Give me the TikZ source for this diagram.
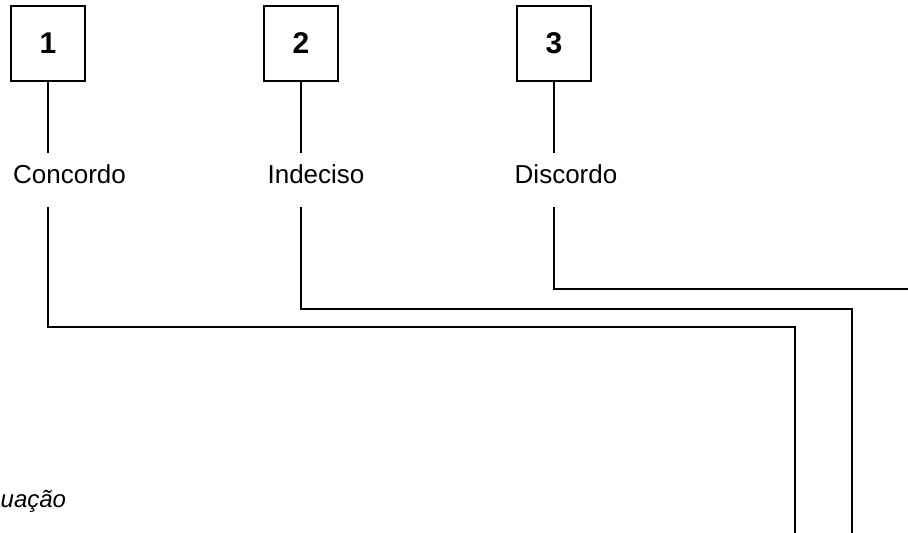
\documentclass[tikz,border=0pt]{standalone}
\usepackage{fontspec}
\setmainfont{Liberation Sans}
\begin{document}
\begin{tikzpicture}[x=1pt,y=-1pt,
  numbox/.style={draw,line width=2.2pt,minimum width=74pt,minimum height=75pt,inner sep=0pt,font=\fontsize{30}{32}\selectfont\bfseries},
  optlabel/.style={inner xsep=2pt,inner ysep=0pt,text height=30pt,text depth=24pt,anchor=base,font=\fontsize{26}{28}\selectfont},
  wire/.style={line width=2.4pt}]
\useasboundingbox (0,0) rectangle (908,533);
% boxes
\node[numbox] (b1) at (48,43.5) {1};
\node[numbox] (b2) at (301,43.5) {2};
\node[numbox] (b3) at (554,43.5) {3};
% labels
\node[optlabel] (l1) at (69.5,183) {Concordo};
\node[optlabel] (l2) at (316,183) {Indeciso};
\node[optlabel] (l3) at (566,183) {Discordo};
% bend points and ends
\coordinate (h1) at (795,327);
\coordinate (e1) at (795,533);
\coordinate (h2) at (852,309);
\coordinate (e2) at (852,533);
\coordinate (e3) at (908,289);
% connectors
\draw[wire] (b1.south) -- (b1.south |- l1.north);
\draw[wire] (b2.south) -- (b2.south |- l2.north);
\draw[wire] (b3.south) -- (b3.south |- l3.north);
\draw[wire] (b1.south |- l1.south) |- (h1) -- (e1);
\draw[wire] (b2.south |- l2.south) |- (h2) -- (e2);
\draw[wire] (b3.south |- l3.south) |- (e3);
% partial caption
\node[anchor=base west,inner sep=0pt,font=\fontsize{24}{26}\selectfont\itshape] (cap) at (0.5,507) {uação};
\end{tikzpicture}
\end{document}
